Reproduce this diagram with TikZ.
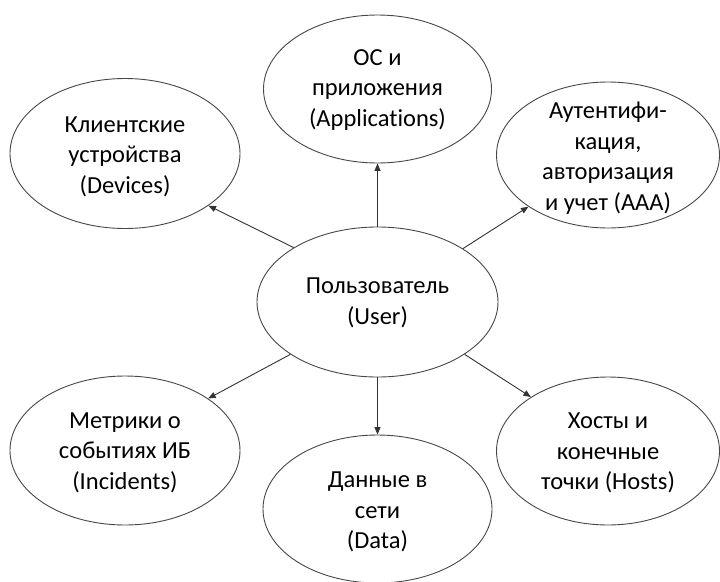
\documentclass[tikz,border=0pt]{standalone}
\usepackage{fontspec}
\setmainfont{Carlito}[Ligatures=NoCommon]
\usetikzlibrary{shapes.geometric,arrows.meta}

\tikzset{
  bub/.style={ellipse, draw=black!72, line width=0.9pt, inner sep=0pt, fill=white},
  txt/.style={align=center, inner sep=0pt, text=black,
              font=\fontsize{24.5}{30.5}\selectfont},
  link/.style={draw=black!80, line width=0.9pt,
               -{Triangle[length=7.5pt,width=6pt]}}
}

\begin{document}
\begin{tikzpicture}[x=1pt,y=-1pt]
\useasboundingbox (0,0) rectangle (720,581);

% outer ellipses
\node[bub, minimum width=230pt, minimum height=150pt] (dev)   at (125,153.5) {};
\node[bub, minimum width=228pt, minimum height=148pt] (app)   at (377.5,89)  {};
\node[bub, minimum width=223pt, minimum height=146pt] (aaa)   at (608,155)   {};
\node[bub, minimum width=241pt, minimum height=150pt] (user)  at (377.5,302) {};
\node[bub, minimum width=230pt, minimum height=149pt] (inc)   at (125,450.5) {};
\node[bub, minimum width=229pt, minimum height=148pt] (data)  at (377.5,509) {};
\node[bub, minimum width=223pt, minimum height=148pt] (hosts) at (608,451)   {};

% labels
\node[txt] at ([yshift=-3pt]dev.center)   {Клиентские\\устройства\\(Devices)};
\node[txt] at ([yshift=-1pt]app.center)   {ОС и\\приложения\\(Applications)};
\node[txt] at ([yshift=-3pt]aaa.center)   {Аутентифи-\\кация,\\авторизация\\и учет (AAA)};
\node[txt] at ([yshift=-1pt]user.center)  {Пользователь\\(User)};
\node[txt] at ([yshift=-2pt]inc.center)   {Метрики о\\событиях ИБ\\(Incidents)};
\node[txt] at ([yshift=-3pt]data.center)  {Данные в\\сети\\(Data)};
\node[txt] at ([yshift=-2pt]hosts.center) {Хосты и\\конечные\\точки (Hosts)};

% connectors from the user
\draw[link] (user.147.6) -- (dev.-32.4);
\draw[link] (user.90)    -- (app.-90);
\draw[link] (user.32.3)  -- (aaa.213.7);
\draw[link] (user.211.8) -- (inc.32.6);
\draw[link] (user.-90)   -- (data.90);
\draw[link] (user.-31.8) -- (hosts.145.8);
\end{tikzpicture}
\end{document}
